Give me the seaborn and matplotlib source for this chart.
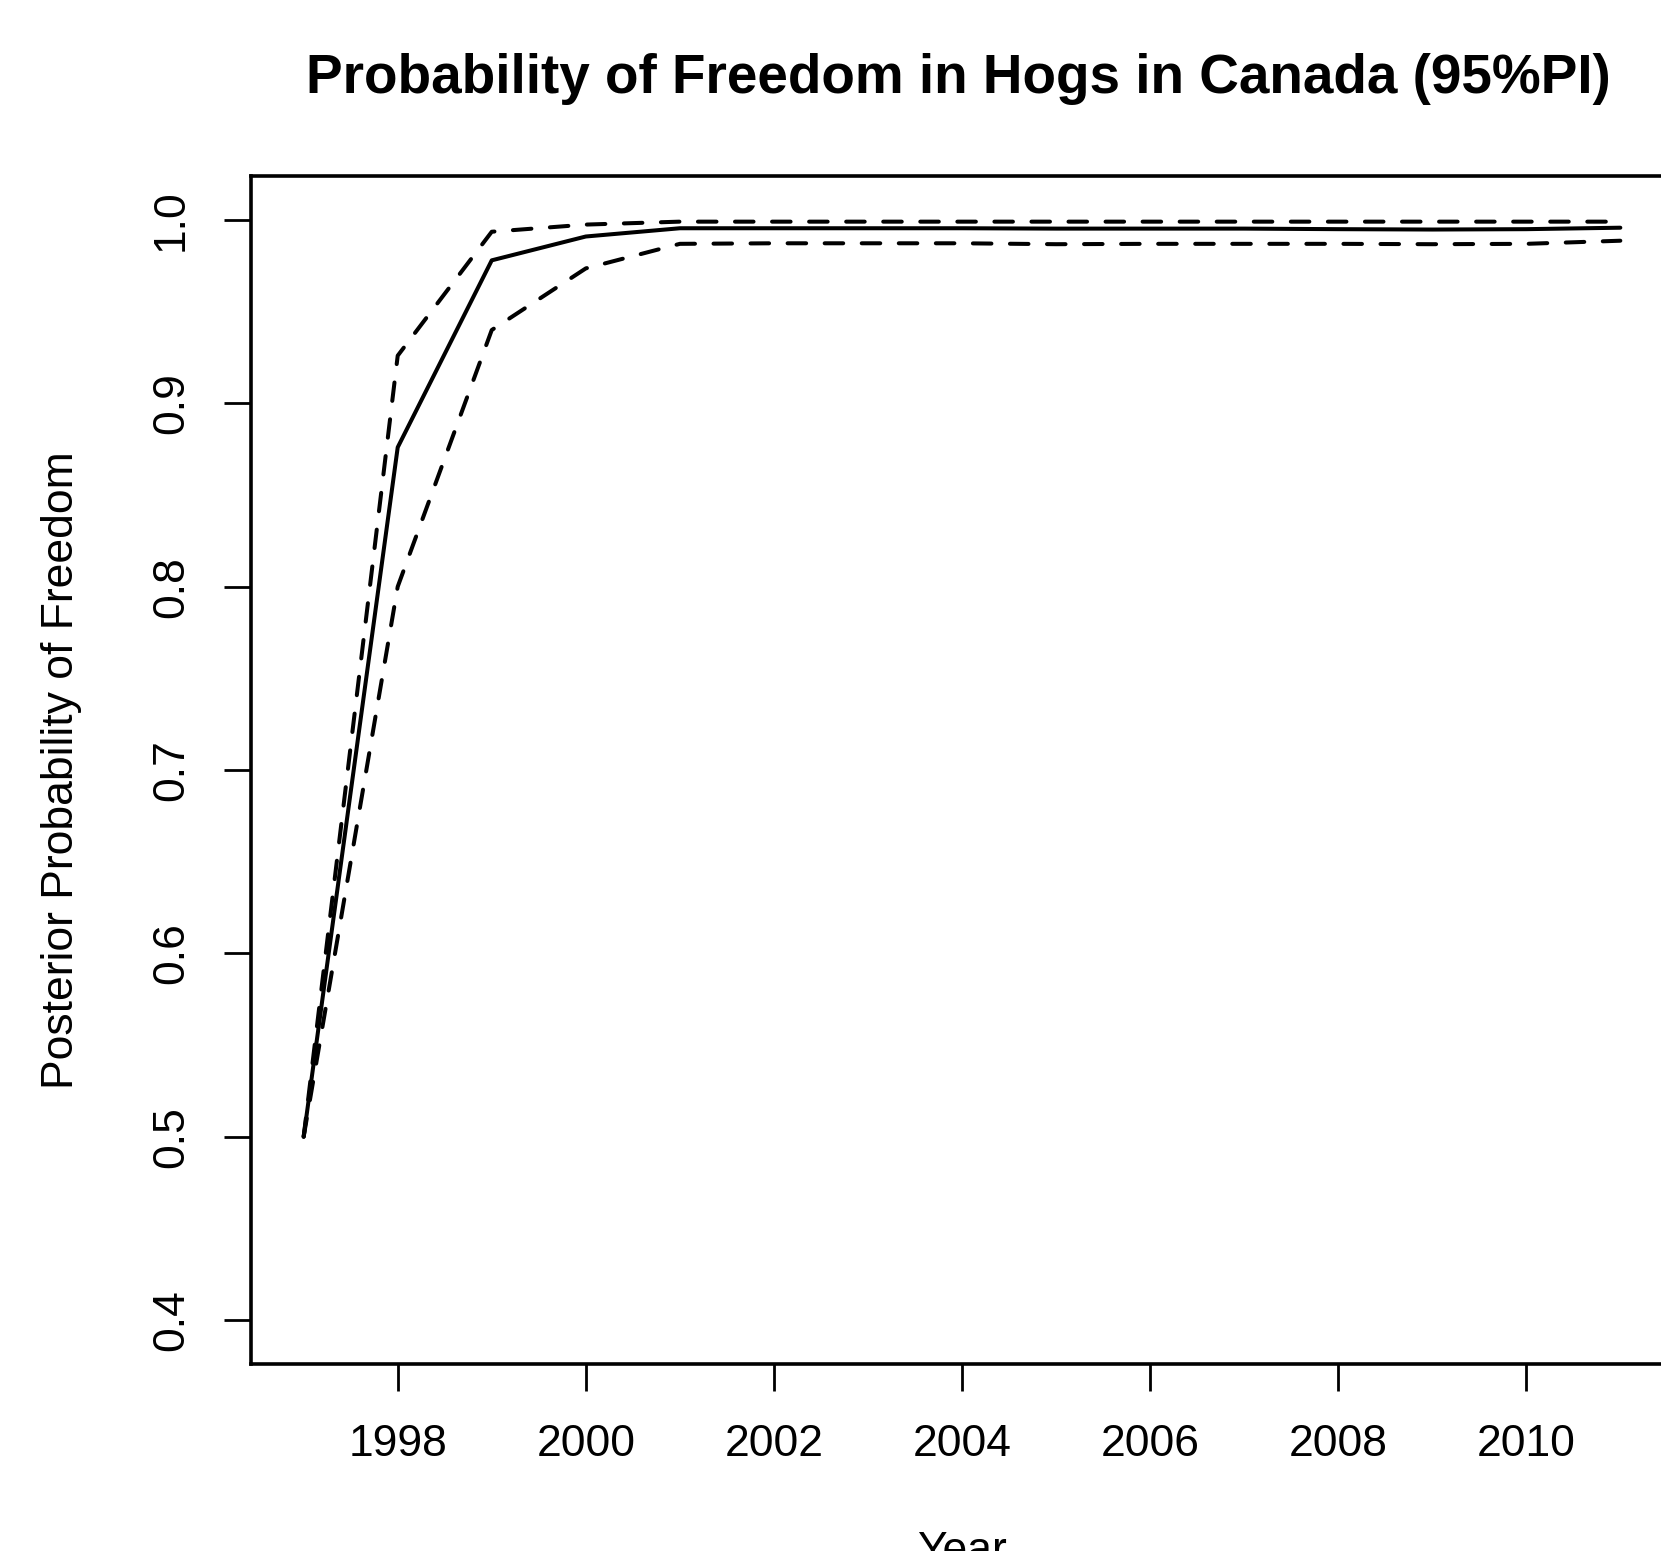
import matplotlib
matplotlib.use("Agg")
import matplotlib.pyplot as plt
import seaborn as sns
import pandas as pd

years = list(range(1997, 2012))
mean_prob = [0.500, 0.876, 0.978, 0.991, 0.9955, 0.9955, 0.9955, 0.9955, 0.9953,
             0.9953, 0.9953, 0.9950, 0.9948, 0.9950, 0.9958]
upper_prob = [0.500, 0.926, 0.9936, 0.9975, 0.9991, 0.9991, 0.9991, 0.9991, 0.9991,
              0.9991, 0.9991, 0.9991, 0.9991, 0.9991, 0.9991]
lower_prob = [0.500, 0.800, 0.940, 0.9736, 0.987, 0.9873, 0.9873, 0.9873, 0.9868,
              0.9870, 0.9870, 0.9870, 0.9868, 0.9870, 0.9887]
x_ticks = [1998, 2000, 2002, 2004, 2006, 2008, 2010]
y_ticks = [0.4, 0.5, 0.6, 0.7, 0.8, 0.9, 1.0]
title = "Probability of Freedom in Hogs in Canada (95%PI)"
xlabel = "Year"
ylabel = "Posterior Probability of Freedom"

sns.set_style("white")
plt.rcParams['font.family'] = ['Liberation Sans', 'DejaVu Sans']
plt.rcParams['text.color'] = 'black'
plt.rcParams['axes.labelcolor'] = 'black'
plt.rcParams['xtick.color'] = 'black'
plt.rcParams['ytick.color'] = 'black'

W, H = 1661, 1551
fig = plt.figure(figsize=(W / 100, H / 100), dpi=100)
ax = fig.add_axes([251 / W, 1 - 1364 / H, 1422 / W, 1188 / H])

df = pd.DataFrame({"Year": years, "mean": mean_prob, "upper": upper_prob, "lower": lower_prob})
lw = 2.9
sns.lineplot(data=df, x="Year", y="mean", ax=ax, color="black", linewidth=lw,
             solid_joinstyle="round", solid_capstyle="round")
for col in ["upper", "lower"]:
    sns.lineplot(data=df, x="Year", y=col, ax=ax, color="black", linewidth=lw,
                 dashes=False)
    line = ax.lines[-1]
    line.set_dashes((4.6, 4.6))
    line.set_dash_capstyle("round")
    line.set_dash_joinstyle("round")

ax.set_xlim(1997 - 0.56, 2011 + 0.56)
ax.set_ylim(0.4 - 0.024, 1.0 + 0.024)
ax.set_xticks(x_ticks)
ax.set_yticks(y_ticks)
ax.set_xticklabels([str(t) for t in x_ticks])
ax.set_yticklabels([f"{t:.1f}" for t in y_ticks], rotation=90, va="center")

fs = 32
ax.tick_params(axis="both", which="major", direction="out", length=19.5, width=2.0,
               labelsize=fs, color="black", labelcolor="black")
ax.tick_params(axis="x", pad=24, bottom=True)
ax.tick_params(axis="y", pad=23, left=True)
for s in ax.spines.values():
    s.set_linewidth(2.6)
    s.set_color("black")

ax.set_xlabel(xlabel, fontsize=fs, color="black")
ax.xaxis.label.set_verticalalignment("baseline")
ax.xaxis.set_label_coords(0.5, (1364 - 1563) / 1188)
ax.set_ylabel(ylabel, fontsize=fs, color="black")
ax.yaxis.label.set_verticalalignment("center")
ax.yaxis.set_label_coords((61.5 - 251) / 1422, 0.5)

fig.text((251 + 1673) / 2 / W - 0.002, 1 - 93 / H, title, fontsize=39.5, fontweight="bold",
         ha="center", va="baseline", color="black")

fig.savefig("out.png", dpi=100, facecolor="white")
